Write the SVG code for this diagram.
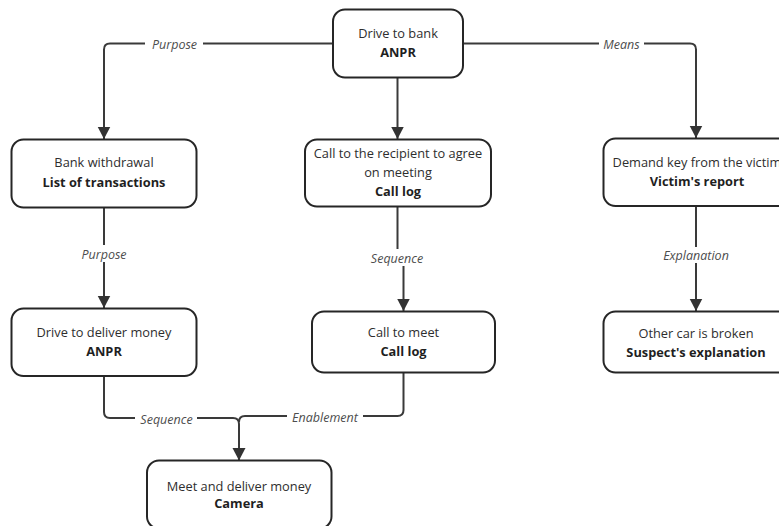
<svg xmlns="http://www.w3.org/2000/svg" width="779" height="526" viewBox="0 0 779 526">
<defs>
<style>
.box{fill:#fff;stroke:#262626;stroke-width:2}
.t{font-family:"Open Sans","Noto Sans",sans-serif;font-size:12.8px;fill:#2e2e2e;text-anchor:middle}
.b{font-weight:bold;fill:#1f1f1f}
.e{fill:none;stroke:#3a3a3a;stroke-width:2}
.lb{fill:#fff;stroke:none}
.l{font-family:"Open Sans","Noto Sans",sans-serif;font-size:12.5px;font-style:italic;fill:#4d4d4d;text-anchor:middle;dominant-baseline:central}
</style>
<marker id="ar" markerUnits="userSpaceOnUse" markerWidth="14" markerHeight="14" refX="12.5" refY="7" orient="auto">
<path d="M0,0.5 L12.5,7 L0,13.5 Z" fill="#333"/>
</marker>
</defs>
<g id="connectors">
<path class="e" d="M333,43.5 H110 Q104,43.5 104,49.5 V139" marker-end="url(#ar)"/>
<path class="e" d="M463,43.5 H690 Q696,43.5 696,49.5 V138" marker-end="url(#ar)"/>
<path class="e" d="M397.5,77 V139" marker-end="url(#ar)"/>
<path class="e" d="M104,207 V308" marker-end="url(#ar)"/>
<path class="e" d="M397.5,207 V256 H403.5 V311" marker-end="url(#ar)"/>
<path class="e" d="M696,206 V311" marker-end="url(#ar)"/>
<path class="e" d="M104,376 V412 Q104,418 110,418 H233 Q239,418 239,424 V460.5" marker-end="url(#ar)"/>
<path class="e" d="M403.5,373 V410 Q403.5,416 397.5,416 H245 Q239,416 239,422"/>
<rect class="lb" x="145" y="35" width="58" height="17"/>
<text class="l" x="174.5" y="44">Purpose</text>
<rect class="lb" x="599" y="35" width="45" height="17"/>
<text class="l" x="621.5" y="44">Means</text>
<rect class="lb" x="78" y="245" width="52" height="17"/>
<text class="l" x="104" y="254">Purpose</text>
<rect class="lb" x="363" y="249" width="68" height="17"/>
<text class="l" x="397" y="258">Sequence</text>
<rect class="lb" x="654" y="247" width="84" height="16"/>
<text class="l" x="696" y="255.5">Explanation</text>
<rect class="lb" x="135" y="410" width="62" height="17"/>
<text class="l" x="166.5" y="419">Sequence</text>
<rect class="lb" x="287" y="408" width="76" height="17"/>
<text class="l" x="325" y="417">Enablement</text>
</g>
<g id="n_drive_bank">
<rect class="box" x="333" y="9.5" width="130" height="68" rx="12"/>
<text class="t" x="398" y="38">Drive to bank</text>
<text class="t b" x="398" y="57">ANPR</text>
</g>
<g id="n_bank_withdrawal">
<rect class="box" x="11.5" y="139.5" width="185" height="68" rx="12"/>
<text class="t" x="104" y="167">Bank withdrawal</text>
<text class="t b" x="104" y="186.5">List of transactions</text>
</g>
<g id="n_call_recipient">
<rect class="box" x="305" y="139.5" width="186" height="67" rx="12"/>
<text class="t" x="398" y="158">Call to the recipient to agree</text>
<text class="t" x="398" y="176.5">on meeting</text>
<text class="t b" x="398" y="195.5">Call log</text>
</g>
<g id="n_demand_key">
<rect class="box" x="603.5" y="138.5" width="188" height="67.5" rx="12"/>
<text class="t" x="697" y="166.5">Demand key from the victim</text>
<text class="t b" x="697" y="185.5">Victim's report</text>
</g>
<g id="n_drive_deliver">
<rect class="box" x="11.5" y="308.5" width="185" height="67.5" rx="12"/>
<text class="t" x="104" y="337">Drive to deliver money</text>
<text class="t b" x="104" y="356">ANPR</text>
</g>
<g id="n_call_meet">
<rect class="box" x="312" y="311.5" width="183" height="61" rx="12"/>
<text class="t" x="403.5" y="336.5">Call to meet</text>
<text class="t b" x="403.5" y="355.5">Call log</text>
</g>
<g id="n_other_car">
<rect class="box" x="603.5" y="311.5" width="186" height="61" rx="12"/>
<text class="t" x="696" y="338">Other car is broken</text>
<text class="t b" x="696" y="356.5">Suspect's explanation</text>
</g>
<g id="n_meet_deliver">
<rect class="box" x="147" y="460.5" width="184.5" height="68" rx="12"/>
<text class="t" x="239" y="490.5">Meet and deliver money</text>
<text class="t b" x="239" y="508">Camera</text>
</g>
</svg>
